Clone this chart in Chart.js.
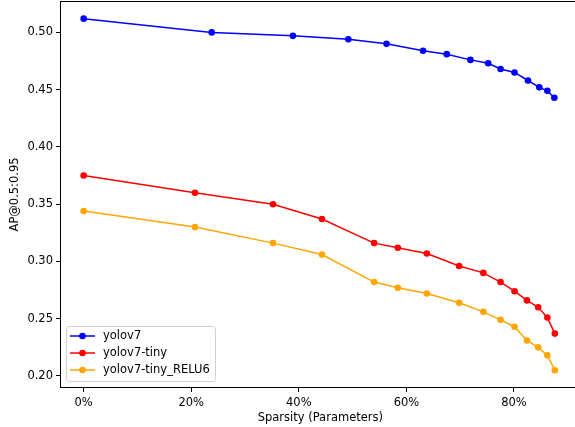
<!DOCTYPE html>
<html>
<head>
<meta charset="utf-8">
<script src="https://cdn.jsdelivr.net/npm/chart.js@4"></script>
<style>
  html, body { margin: 0; padding: 0; background: #fff; overflow: hidden; }
  #wrap { width: 575px; height: 427px; overflow: hidden; position: relative; }
  #myChart { position: absolute; left: 0; top: -9px; }
</style>
</head>
<body>
<div id="wrap"><canvas id="myChart" width="584" height="436"></canvas></div>
<script>
// sparsity (%) and AP values
const sparsityV7 = [0, 23.8, 38.9, 49.2, 56.3, 63.1, 67.5, 71.9, 75.2, 77.5, 80.1, 82.6, 84.7, 86.2, 87.5];
const apV7 = [0.512, 0.500, 0.497, 0.494, 0.490, 0.484, 0.481, 0.476, 0.473, 0.468, 0.465, 0.458, 0.452, 0.449, 0.443];

const sparsityTiny = [0, 20.7, 35.2, 44.3, 54.0, 58.4, 63.8, 69.8, 74.3, 77.5, 80.1, 82.4, 84.5, 86.2, 87.6];
const apTiny = [0.375, 0.360, 0.350, 0.337, 0.316, 0.312, 0.307, 0.296, 0.290, 0.282, 0.274, 0.266, 0.260, 0.251, 0.237];
const apTinyRelu6 = [0.344, 0.330, 0.316, 0.306, 0.282, 0.277, 0.272, 0.264, 0.256, 0.249, 0.243, 0.231, 0.225, 0.218, 0.205];

const xTicks = [0, 20, 40, 60, 80];
const yTicks = [0.20, 0.25, 0.30, 0.35, 0.40, 0.45, 0.50];

const font = { family: 'DejaVu Sans', size: 11.5 };
const toPts = (xs, ys) => xs.map((x, i) => ({ x: x, y: ys[i] }));

const mkSet = (label, color, xs, ys) => ({
    label: label,
    data: toPts(xs, ys),
    borderColor: color,
    backgroundColor: color,
    borderWidth: 1.5,
    pointRadius: 3.3,
    pointHoverRadius: 3.3,
    pointBorderWidth: 0,
    tension: 0
});

// box round the plot + legend in the lower left corner, like matplotlib
const boxAndLegend = {
    id: 'boxAndLegend',
    afterDatasetsDraw(chart) {
        const { ctx, chartArea: a } = chart;
        ctx.save();
        ctx.strokeStyle = '#000';
        ctx.lineWidth = 1;
        ctx.strokeRect(Math.round(a.left) + 0.5, Math.round(a.top) + 0.5,
            Math.round(a.right - a.left) - 1, Math.round(a.bottom - a.top) - 1);

        const bx = a.left + 6, by = a.bottom - 62, bw = 149, bh = 55;
        ctx.fillStyle = 'rgba(255,255,255,0.8)';
        ctx.strokeStyle = '#d0d0d0';
        ctx.beginPath();
        ctx.roundRect(bx + 0.5, by + 0.5, bw, bh, 3);
        ctx.fill();
        ctx.stroke();
        ctx.font = '11.5px "DejaVu Sans"';
        ctx.textBaseline = 'middle';
        chart.data.datasets.forEach((ds, i) => {
            const cy = by + 10 + i * 17;
            ctx.strokeStyle = ds.borderColor;
            ctx.lineWidth = 1.5;
            ctx.beginPath();
            ctx.moveTo(bx + 4, cy);
            ctx.lineTo(bx + 29, cy);
            ctx.stroke();
            ctx.fillStyle = ds.borderColor;
            ctx.beginPath();
            ctx.arc(bx + 16.5, cy, 3.3, 0, Math.PI * 2);
            ctx.fill();
            ctx.fillStyle = '#000';
            ctx.fillText(ds.label, bx + 37, cy);
        });
        ctx.restore();
    }
};

new Chart(document.getElementById('myChart'), {
    type: 'line',
    data: {
        datasets: [
            mkSet('yolov7', '#0000ff', sparsityV7, apV7),
            mkSet('yolov7-tiny', '#ff0000', sparsityTiny, apTiny),
            mkSet('yolov7-tiny_RELU6', '#ffa500', sparsityTiny, apTinyRelu6)
        ]
    },
    options: {
        responsive: false,
        animation: false,
        layout: { padding: { top: 0, right: 0, left: 0, bottom: 0 } },
        plugins: {
            legend: { display: false },
            tooltip: { enabled: false }
        },
        scales: {
            x: {
                type: 'linear',
                min: -4.4,
                max: 92.4,
                afterBuildTicks: s => { s.ticks = xTicks.map(v => ({ value: v })); },
                afterFit: s => { s.height = 39; },
                ticks: {
                    color: '#000',
                    font: font,
                    padding: 4,
                    maxRotation: 0,
                    callback: v => v + '%'
                },
                grid: { display: true, drawOnChartArea: false, drawTicks: true, tickLength: 4, color: '#000' },
                border: { display: false },
                title: { display: true, text: 'Sparsity (Parameters)', color: '#000', font: font, padding: { top: 1, bottom: 2 } }
            },
            y: {
                min: 0.1895,
                max: 0.5275,
                afterBuildTicks: s => { s.ticks = yTicks.map(v => ({ value: v })); },
                afterFit: s => { s.width = 60; },
                ticks: {
                    color: '#000',
                    font: font,
                    padding: 3,
                    callback: v => v.toFixed(2)
                },
                grid: { display: true, drawOnChartArea: false, drawTicks: true, tickLength: 4, color: '#000' },
                border: { display: false },
                title: { display: true, text: 'AP@0.5:0.95', color: '#000', font: font, padding: { top: 8, bottom: 0 } }
            }
        }
    },
    plugins: [boxAndLegend]
});
</script>
</body>
</html>
